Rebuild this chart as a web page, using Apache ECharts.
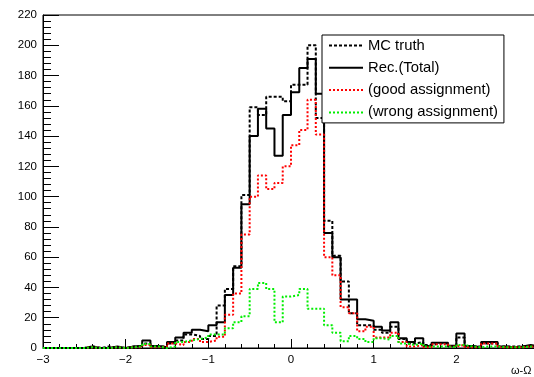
<!DOCTYPE html>
<html>
<head>
<meta charset="utf-8">
<script src="https://cdn.jsdelivr.net/npm/echarts@6/dist/echarts.min.js"></script>
<style>
  html, body { margin: 0; padding: 0; background: #fff; }
  #chart { width: 534px; height: 377px; }
</style>
</head>
<body>
<div id="chart"></div>
<script>
// histogram: 60 bins of 0.1 from -3 to 3
const xMin = -3
const xMax = 3
const binWidth = 0.1

const mcTruth = [
  0, 0, 0, 0, 0, 1, 0, 1, 0, 0,
  1, 1, 3, 1, 1, 3, 5, 9, 8, 6,
  8, 28, 39, 54, 101, 159, 154, 166, 166, 163,
  174, 174, 200, 152, 84, 61, 44, 23, 15, 15,
  12, 10, 14, 6, 3, 4, 2, 3, 3, 1,
  7, 1, 1, 3, 3, 1, 1, 1, 1, 1,
]

const recTotal = [
  0, 0, 0, 0, 0, 1, 0, 0, 1, 0,
  1, 1.5, 5, 1.3, 0.5, 4, 7, 10, 12, 11,
  15, 17, 35, 53, 95, 140, 158, 145, 127, 154,
  169, 185, 191, 168, 76, 60, 32, 32, 19, 18,
  14, 11.5, 17, 6.5, 4, 6.5, 1.3, 3.5, 3.5, 1.5,
  9.5, 1.3, 0.5, 4, 4, 1, 0.5, 1, 2, 1,
]

const goodAssign = [
  0, 0, 0, 0, 0, 0.5, 0, 0, 0.5, 0,
  0.5, 0.5, 2, 0.5, 1, 3, 2, 4, 6, 4,
  5, 7.5, 22, 36, 75, 100, 114, 105, 109, 120,
  134, 144, 164, 141, 60, 48, 27, 23, 11, 14,
  7, 7, 10, 4, 1, 2, 0.5, 2.5, 2.5, 1,
  2, 0.5, 0.5, 3, 3, 0.5, 0.5, 0.5, 1, 0.5,
]

const wrongAssign = [
  0, 0, 0, 0, 0, 0.5, 0, 0, 0.5, 0,
  0.5, 1, 2.6, 1, 0, 1, 4, 5, 6, 7,
  9, 9, 13, 17, 21, 39, 43, 39, 17, 34,
  35, 39, 26, 26, 15, 10, 4.5, 8, 6, 4,
  6.5, 5.5, 8, 3, 2, 3, 1, 1, 1, 0.5,
  2, 1, 0.5, 1, 1, 0.5, 0.5, 0.5, 1, 0.5,
]

const seriesNames = ['MC truth', 'Rec.(Total)', '(good assignment)', '(wrong assignment)']
const yTicks = { min: 0, max: 220, interval: 20 }

const FONT = "'Liberation Sans', Arial, sans-serif"

// turn bin contents into step points [left edge, value], closing at xMax
function toSteps(values) {
  const pts = values.map((v, i) => [xMin + i * binWidth, v])
  pts.push([xMax, values[values.length - 1]])
  return pts
}

function stepSeries(name, values, color, dash) {
  return {
    name,
    type: 'line',
    step: 'end',
    symbol: 'none',
    showSymbol: false,
    data: toSteps(values),
    lineStyle: { color, width: 2, type: dash },
    itemStyle: { color },
    z: 3,
  }
}

const chart = echarts.init(document.getElementById('chart'))

const option = {
  animation: false,
  backgroundColor: '#fff',
  textStyle: { fontFamily: FONT },
  grid: {
    left: 43,
    right: -5,
    top: 15,
    bottom: 29,
    outerBoundsMode: 'none',
    containLabel: false,
    show: true,
    borderColor: '#000',
    borderWidth: 1,
  },
  legend: {
    data: seriesNames,
    orient: 'vertical',
    left: 322,
    top: 35,
    itemWidth: 34,
    itemHeight: 14,
    itemGap: 7.3,
    padding: [3, 6, 3, 6],
    backgroundColor: '#fff',
    borderColor: '#000',
    borderWidth: 1,
    borderRadius: 0,
    itemStyle: { opacity: 0 },
    textStyle: { fontFamily: FONT, fontSize: 14.8, color: '#000' },
    z: 10,
  },
  xAxis: {
    type: 'value',
    min: xMin,
    max: xMax,
    interval: 1,
    axisLine: { onZero: false, lineStyle: { color: '#000', width: 1 } },
    axisTick: { inside: true, length: 9, lineStyle: { color: '#000' } },
    minorTick: { show: true, splitNumber: 5, length: 4, lineStyle: { color: '#000' } },
    splitLine: { show: false },
    axisLabel: {
      color: '#000',
      fontSize: 11.5,
      fontFamily: FONT,
      margin: 6,
      formatter: v => (v < 0 ? '\u2212' + Math.abs(v) : String(v)),
    },
  },
  yAxis: {
    type: 'value',
    min: yTicks.min,
    max: yTicks.max,
    interval: yTicks.interval,
    axisLine: { show: true, onZero: false, lineStyle: { color: '#000', width: 1 } },
    axisTick: { show: true, inside: true, length: 16, lineStyle: { color: '#000' } },
    minorTick: { show: true, splitNumber: 5, length: 8, lineStyle: { color: '#000' } },
    splitLine: { show: false },
    axisLabel: { color: '#000', fontSize: 11.5, fontFamily: FONT, margin: 6 },
  },
  graphic: [
    {
      type: 'text',
      left: 511,
      top: 365,
      style: { text: '\u03c9-\u03a9', fontSize: 11, fontFamily: FONT, fill: '#000' },
    },
  ],
  series: [
    stepSeries(seriesNames[0], mcTruth, '#000', [3, 2]),
    stepSeries(seriesNames[1], recTotal, '#000', 'solid'),
    stepSeries(seriesNames[2], goodAssign, '#ff0000', [2, 2]),
    stepSeries(seriesNames[3], wrongAssign, '#00ee00', [2, 2]),
  ],
}

chart.setOption(option)
</script>
</body>
</html>
